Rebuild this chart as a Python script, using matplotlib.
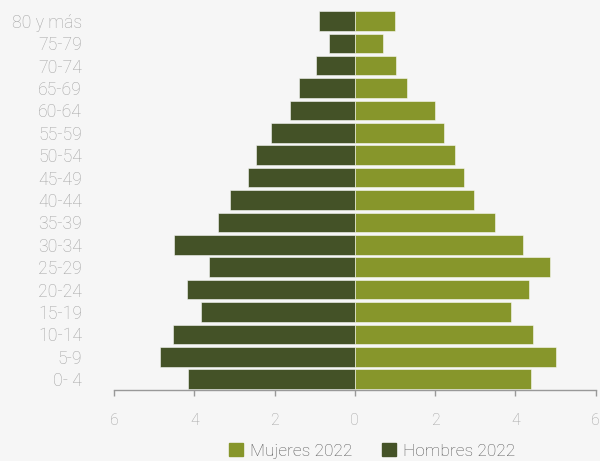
import numpy as np
import matplotlib.pyplot as plt
from matplotlib.patches import Patch

plt.rcParams['font.family'] = ['Roboto', 'DejaVu Sans']

# grupos de edad, de abajo hacia arriba
edades = ["0- 4", "5-9", "10-14", "15-19", "20-24", "25-29", "30-34", "35-39",
          "40-44", "45-49", "50-54", "55-59", "60-64", "65-69", "70-74",
          "75-79", "80 y más"]
hombres = [4.15, 4.85, 4.52, 3.84, 4.19, 3.63, 4.51, 3.41,
           3.11, 2.66, 2.46, 2.09, 1.62, 1.38, 0.97, 0.64, 0.89]
mujeres = [4.38, 5.02, 4.44, 3.90, 4.33, 4.87, 4.19, 3.50,
           2.96, 2.72, 2.50, 2.21, 1.99, 1.30, 1.03, 0.71, 0.99]
ticks_x = [-6, -4, -2, 0, 2, 4, 6]

col_h = '#445227'
col_m = '#87962b'
fondo = '#f6f6f6'

fig = plt.figure(figsize=(6, 4.61), dpi=100, facecolor=fondo)
ax = fig.add_axes([0.19, 0.1547, 0.8028, 0.8243], facecolor=fondo)

y = np.arange(len(edades))
ax.barh(y, [-v for v in hombres], height=0.87, color=col_h,
        edgecolor=(1, 1, 1, 0.6), linewidth=0.6)
ax.barh(y, mujeres, height=0.87, color=col_m,
        edgecolor=(1, 1, 1, 0.6), linewidth=0.6)

ax.set_xlim(-6, 6)
ax.set_ylim(-0.47, 16.5)
ax.set_xticks(ticks_x)
ax.set_xticklabels([str(abs(t)) for t in ticks_x])
ax.set_yticks(y)
ax.set_yticklabels(edades)

for s in ['top', 'right', 'left']:
    ax.spines[s].set_visible(False)
ax.spines['bottom'].set_color('#999999')
ax.spines['bottom'].set_linewidth(1)

ax.tick_params(axis='x', length=4.5, width=1, color='#999999', pad=12,
               labelsize=11.5, labelcolor='#a3a3a3')
ax.tick_params(axis='y', length=0, pad=23, labelsize=12.7, labelcolor='#a3a3a3')
for lab in ax.get_xticklabels() + ax.get_yticklabels():
    lab.set_fontweight('light')

handles = [Patch(color=col_m, label='Mujeres 2022'),
           Patch(color=col_h, label='Hombres 2022')]
leg = fig.legend(handles=handles, loc='center', bbox_to_anchor=(0.62, 0.022),
                 ncol=2, frameon=False, fontsize=12.5, handlelength=0.8,
                 handleheight=0.8, handletextpad=0.4, columnspacing=1.7,
                 borderpad=0.2)
for t in leg.get_texts():
    t.set_color('#555555')
    t.set_fontweight('light')

fig.savefig('out.png', dpi=100, facecolor=fondo)
